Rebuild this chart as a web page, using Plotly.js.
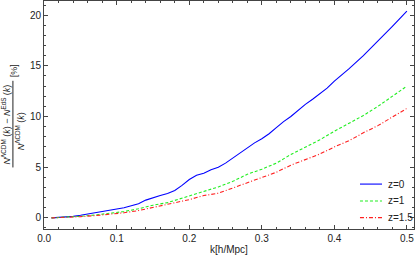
<!DOCTYPE html>
<html>
<head>
<meta charset="utf-8">
<script src="https://cdn.plot.ly/plotly-3.0.1.min.js"></script>
<style>html,body{margin:0;padding:0;background:#fff;}#chart{width:415px;height:255px;}</style>
</head>
<body>
<div id="chart"></div>
<script>
// Blue: z=0
const k0 = [0.01,0.02,0.03,0.04,0.05,0.06,0.07,0.08,0.09,0.10,0.11,0.12,0.13,0.14,0.15,0.16,0.17,0.18,0.19,0.20,0.21,0.22,0.23,0.24,0.25,0.26,0.27,0.28,0.29,0.30,0.31,0.32,0.33,0.34,0.35,0.36,0.37,0.38,0.39,0.40,0.42,0.44,0.46,0.48,0.50];
const v0 = [0,0.03,0.08,0.15,0.25,0.38,0.5,0.6,0.7,0.85,1.0,1.2,1.4,1.75,2.0,2.2,2.4,2.7,3.2,3.78,4.2,4.4,4.75,5.0,5.4,5.9,6.4,6.95,7.4,7.8,8.3,8.9,9.5,10.0,10.6,11.2,11.7,12.25,12.8,13.5,14.7,16.0,17.4,18.9,20.4];
// Green: z=1
const k1 = [0.01,0.03,0.05,0.07,0.09,0.11,0.13,0.15,0.17,0.19,0.20,0.21,0.22,0.24,0.26,0.28,0.30,0.32,0.34,0.36,0.38,0.40,0.42,0.44,0.46,0.48,0.50];
const v1 = [0,0.05,0.15,0.28,0.45,0.62,0.9,1.25,1.5,1.95,2.13,2.4,2.62,3.05,3.6,4.3,4.8,5.4,6.25,6.95,7.7,8.55,9.3,10.1,11.0,12.0,13.0];
// Red: z=1.5
const k2 = [0.01,0.03,0.05,0.07,0.09,0.11,0.13,0.15,0.17,0.19,0.20,0.21,0.22,0.24,0.26,0.28,0.30,0.32,0.34,0.36,0.38,0.40,0.42,0.44,0.46,0.48,0.50];
const v2 = [0,0.04,0.12,0.22,0.35,0.5,0.72,1.02,1.3,1.65,1.8,2.0,2.2,2.43,2.95,3.45,4.0,4.5,5.2,5.75,6.3,7.0,7.6,8.4,9.1,9.95,10.8];

const names = ["z=0","z=1","z=1.5"];
const xTicks = [0,0.1,0.2,0.3,0.4,0.5];
const yTicks = [0,5,10,15,20];

const FONT = "Liberation Sans, Arial, sans-serif";
const lineStyles = [
  {color:"#0000ff", width:1.1},
  {color:"#22ee22", width:1.1, dash:"3px,2px"},
  {color:"#ff2020", width:1.1, dash:"4px,2px,1px,2px"}
];
const traces = [
  {x:k0, y:v0, name:names[0], mode:"lines", line:lineStyles[0], showlegend:false},
  {x:k1, y:v1, name:names[1], mode:"lines", line:lineStyles[1], showlegend:false},
  {x:k2, y:v2, name:names[2], mode:"lines", line:lineStyles[2], showlegend:false}
];

const axisCommon = {
  showline:true, linecolor:"#444", linewidth:1, mirror:"allticks",
  ticks:"inside", ticklen:4, tickcolor:"#444", tickwidth:1,
  showgrid:false, zeroline:false,
  tickfont:{family:FONT, size:10, color:"#222"}
};

// Legend key (placed inside the frame, lower right), built from names and line styles
const legRowY = [0.197, 0.123, 0.05];
const legendShapes = names.map((n,i)=>({
  type:"line", xref:"paper", yref:"paper", x0:0.854, x1:0.9135, y0:legRowY[i], y1:legRowY[i],
  line:Object.assign({}, lineStyles[i])
}));
const legendTexts = names.map((n,i)=>({
  xref:"paper", yref:"paper", x:0.924, y:legRowY[i], xanchor:"left", yanchor:"middle",
  showarrow:false, text:n, font:{family:FONT, size:10, color:"#222"}
}));

const layout = {
  width:415, height:255,
  margin:{l:44, r:1, t:1, b:26},
  paper_bgcolor:"#fff", plot_bgcolor:"#fff",
  showlegend:false,
  xaxis:Object.assign({}, axisCommon, {
    range:[-0.0003,0.5098], tickvals:xTicks, ticktext:xTicks.map(v=>v.toFixed(1)),
    minor:{dtick:0.02, ticks:"inside", ticklen:2, tickcolor:"#444"},
    title:{text:"k[h/Mpc]", font:{family:FONT, size:10, color:"#222"}, standoff:4}
  }),
  yaxis:Object.assign({}, axisCommon, {
    range:[-1.1,21.4], tickvals:yTicks, ticktext:yTicks.map(String),
    minor:{dtick:1, ticks:"inside", ticklen:2, tickcolor:"#444"}
  }),
  shapes:[
    {type:"line", xref:"paper", yref:"paper", x0:-0.084, x1:-0.084, y0:0.27, y1:0.65,
     line:{color:"#222", width:1}}
  ].concat(legendShapes),
  annotations:[
    {xref:"paper", yref:"paper", x:-0.102, y:0.46, xanchor:"center", yanchor:"middle",
     textangle:-90, showarrow:false,
     text:"<i>N</i><sup>ΛCDM</sup> (<i>k</i>) − <i>N</i><sup>EdS</sup> (<i>k</i>)",
     font:{family:FONT, size:9, color:"#222"}},
    {xref:"paper", yref:"paper", x:-0.064, y:0.43, xanchor:"center", yanchor:"middle",
     textangle:-90, showarrow:false,
     text:"<i>N</i><sup>ΛCDM</sup> (<i>k</i>)",
     font:{family:FONT, size:9, color:"#222"}},
    {xref:"paper", yref:"paper", x:-0.082, y:0.695, xanchor:"center", yanchor:"middle",
     textangle:-90, showarrow:false,
     text:"[%]", font:{family:FONT, size:9, color:"#222"}}
  ].concat(legendTexts)
};

Plotly.newPlot("chart", traces, layout, {staticPlot:true, displayModeBar:false});
</script>
</body>
</html>
